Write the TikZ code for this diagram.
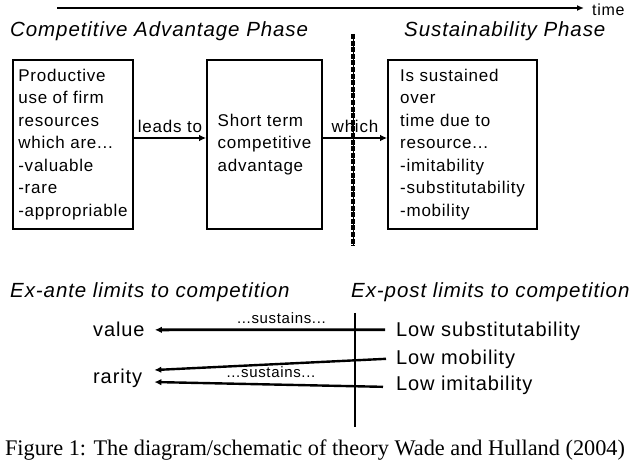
\documentclass[tikz,border=0pt]{standalone}
\usepackage{fontspec}
\setmainfont{Liberation Sans}[LetterSpace=4.5]
\newfontfamily\capfont{Liberation Serif}
\usetikzlibrary{arrows.meta}

\begin{document}
\begin{tikzpicture}[x=1pt,y=-1pt,
    boxtxt/.style={font=\fontsize{17}{22.5}\selectfont},
    phase/.style={font=\fontsize{20.5}{24}\selectfont\itshape,anchor=base west,inner sep=0pt},
    lbl/.style={font=\fontsize{20}{24}\selectfont,anchor=base west,inner sep=0pt},
    sust/.style={font=\fontsize{15}{18}\selectfont,inner sep=0pt},
    box/.style={draw,line width=1.6pt,boxtxt,align=left,minimum height=169pt,inner sep=0pt},
    arr/.style={line width=2.8pt,-{Latex[length=7pt,width=6.5pt]}}]
  \useasboundingbox (0,0) rectangle (640,462);
  \coordinate (t0) at (57,8);
  \node[anchor=base west,inner sep=0pt,font=\fontsize{16}{18}\selectfont] (time) at (592,16) {time};
  \draw[line width=2.6pt,-{Latex[length=7pt,width=6pt]},shorten >=8pt] (t0) -- (t0 -| time.west);
  \node[phase] (cap) at (10,37) {Competitive Advantage Phase};
  \node[phase] (sph) at (404,37) {Sustainability Phase};
  \node[box,minimum width=120pt] (res) at (73,144.5) {Productive\\use of firm\\resources\\which are...\\-valuable\\-rare\\-appropriable};
  \node[box,minimum width=115pt] (adv) at (264.5,144.5) {Short term\\competitive\\advantage};
  \node[box,minimum width=149pt] (sus) at (462.5,144.5) {Is sustained\\over\\time due to\\resource...\\-imitability\\-substitutability\\-mobility};
  \draw[arr] ([yshift=6.5pt]res.east) -- node[above=1pt,boxtxt] (leads) {leads to} ([yshift=6.5pt]adv.west);
  \draw[arr] ([yshift=6.5pt]adv.east) -- node[above=1pt,boxtxt] (which) {which} ([yshift=6.5pt]sus.west);
  \coordinate (dtop) at (353,34);
  \coordinate (dbot) at (353,246);
  \draw[line width=1pt] (dtop) -- (dbot);
  \draw[line width=3.1pt,dash pattern=on 5pt off 1.6pt] (dtop) -- (dbot);
  \node[phase] (exa) at (10,298) {Ex-ante limits to competition};
  \node[phase] (exp) at (351,298) {Ex-post limits to competition};
  \node[lbl] (value) at (93,337) {value};
  \node[lbl] (rarity) at (93,383) {rarity};
  \node[lbl] (lowsub) at (396,337) {Low substitutability};
  \node[lbl] (lowmob) at (396,364) {Low mobility};
  \node[lbl] (lowimi) at (396,390) {Low imitability};
  \coordinate (ltop) at (355,313);
  \coordinate (lbot) at (355,427);
  \draw[arr] ([xshift=-11pt,yshift=2pt]lowsub.west) -- node[sust,pos=0.45,above=5pt] (sus1) {...sustains...} ([xshift=10pt]value.east);
  \draw[arr,line width=2.4pt] ([xshift=-10pt]lowmob.west) -- ([xshift=12pt,yshift=7.8pt]rarity.east);
  \draw[arr,line width=2.4pt] ([xshift=-13pt,yshift=-2pt]lowimi.west) -- node[sust,pos=0.49,above=6pt] (sus2) {...sustains...} ([xshift=12pt,yshift=-4.2pt]rarity.east);
  \draw[line width=2.4pt] (ltop) -- (lbot);
  \node[font=\capfont\fontsize{22.3}{26}\selectfont,anchor=base,inner sep=0pt] (fig) at (315,455) {Figure 1: The diagram/schematic of theory Wade and Hulland (2004)};
\end{tikzpicture}
\end{document}
